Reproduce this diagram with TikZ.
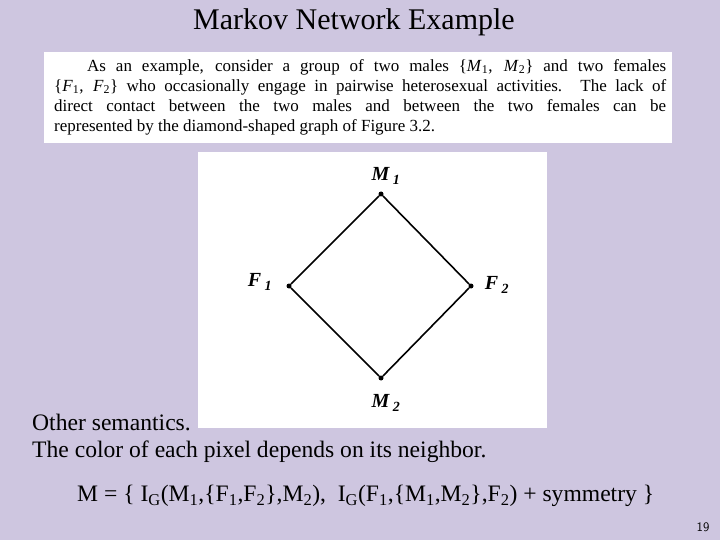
\documentclass[tikz,border=0pt]{standalone}
\usepackage{fontspec}
\setmainfont{Liberation Serif}
\definecolor{bg}{RGB}{206,198,224}
\newcommand{\sbs}[1]{\textsubscript{#1}}
\begin{document}
\begin{tikzpicture}[x=1pt,y=-1pt,
  lbl/.style={font=\fontsize{20}{22}\selectfont\bfseries\itshape},
  dot/.style={circle,fill=black,inner sep=0pt,minimum size=5pt},
  txt/.style={font=\fontsize{23.6}{26}\selectfont,anchor=west,inner sep=0pt}]
\fill[bg] (0,0) rectangle (720,540);
\useasboundingbox (0,0) rectangle (720,540);
\node[font=\fontsize{30}{32}\selectfont] (title) at (354,22) {Markov Network Example};
\fill[white] (44,52) rectangle (672,143);
\node[anchor=north west,inner sep=0pt,font=\fontsize{17}{20.5}\selectfont,align=left] (para) at (87,59)
{\makebox[579pt][s]{As an example, consider a group of two males \{\textit{M}\sbs{1}, \textit{M}\sbs{2}\} and two females}\\[-0.5pt]
\hspace*{-33pt}\makebox[612pt][s]{\{\textit{F}\sbs{1}, \textit{F}\sbs{2}\} who occasionally engage in pairwise heterosexual activities. The lack of}\\[-0.5pt]
\hspace*{-33pt}\makebox[612pt][s]{direct contact between the two males and between the two females can be}\\[-0.5pt]
\hspace*{-33pt}represented by the diamond-shaped graph of Figure 3.2.};
\fill[white] (198,152) rectangle (547,428);
\node[dot] (m1) at (381,194) {};
\node[dot] (f1) at (289,286) {};
\node[dot] (f2) at (471,286) {};
\node[dot] (m2) at (381,378) {};
\draw[line width=1.6pt] (m1) -- (f2) -- (m2) -- (f1) -- (m1);
\node[lbl] (lm1) at (386,176) {M\,\sbs{1}};
\node[lbl] (lf1) at (260,282) {F\,\sbs{1}};
\node[lbl] (lf2) at (497,285) {F\,\sbs{2}};
\node[lbl] (lm2) at (386,403) {M\,\sbs{2}};
\node[txt] (t1) at (32,422) {Other semantics.};
\node[txt] (t2) at (32,452) {The color of each pixel depends on its neighbor.};
\node[txt] (t3) at (77,496) {M = \{ I\sbs{G}(M\sbs{1},\{F\sbs{1},F\sbs{2}\},M\sbs{2}),\ \ I\sbs{G}(F\sbs{1},\{M\sbs{1},M\sbs{2}\},F\sbs{2}) + symmetry \}};
\node[font=\fontsize{13}{14}\selectfont\sffamily] (pg) at (703,527) {19};
\end{tikzpicture}
\end{document}
